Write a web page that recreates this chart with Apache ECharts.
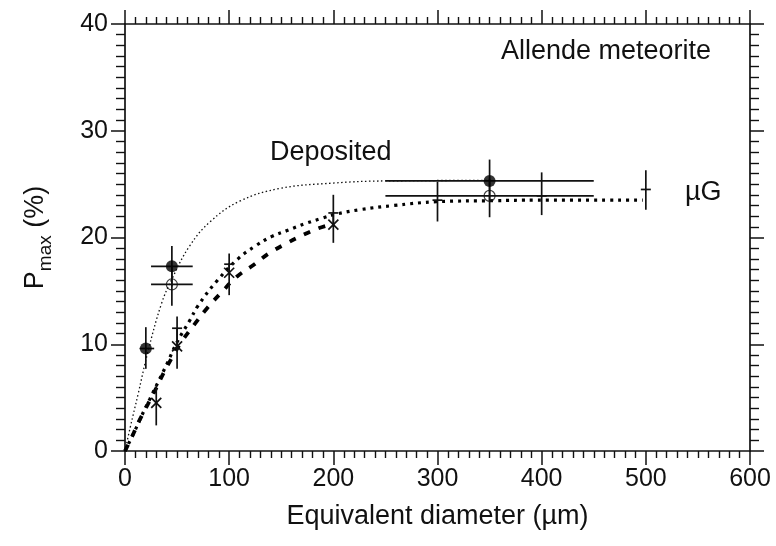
<!DOCTYPE html>
<html>
<head>
<meta charset="utf-8">
<script src="https://cdn.jsdelivr.net/npm/echarts@6/dist/echarts.min.js"></script>
<style>
html,body{margin:0;padding:0;background:#fff;}
#c{width:776px;height:546px;}
</style>
</head>
<body>
<div id="c"></div>
<script>
// ---- data ----
// each point: [x, y, xLow, xHigh, yLow, yHigh]
const depositedFilled = [
  [20, 9.6, 14, 28, 7.7, 11.6],
  [45, 17.3, 25, 65, 15.4, 19.2],
  [350, 25.3, 250, 450, 23.4, 27.3]
];
const depositedOpen = [
  [45, 15.6, 25, 65, 13.6, 17.3],
  [350, 23.9, 250, 450, 21.9, 25.5]
];
const microGPlus = [
  [50, 11.5, 50, 50, 9.8, 12.6],
  [100, 17.5, 100, 100, 16.5, 18.5],
  [200, 22.3, 200, 200, 21.0, 24.0],
  [300, 23.5, 300, 300, 21.5, 25.2],
  [400, 23.9, 400, 400, 22.1, 26.1],
  [500, 24.5, 500, 500, 22.6, 26.3]
];
const crossPts = [
  [30, 4.5, 30, 30, 2.4, 6.2],
  [50, 9.8, 50, 50, 7.7, 11.5],
  [100, 16.7, 100, 100, 14.6, 17.6],
  [200, 21.2, 200, 200, 19.5, 22.3]
];
// fitted curves
const depFitX = [0, 5, 12.5, 22, 35, 45, 62, 82, 110, 149, 200, 250, 350];
const depFitY = [0, 2.2, 5.3, 9.3, 13.8, 16.1, 19.2, 21.5, 23.4, 24.6, 25.1, 25.3, 25.35];
const mgFitX = [0, 9, 16, 24, 32, 40, 50, 62, 70, 88, 109, 125, 141, 157, 173, 189, 203, 225, 258, 299, 354, 395, 497];
const mgFitY = [0, 1.8, 3.3, 4.9, 6.5, 8.1, 10.2, 12.2, 13.6, 15.9, 18.05, 19.2, 20.1, 20.7, 21.3, 21.8, 22.2, 22.6, 23.0, 23.35, 23.45, 23.5, 23.5];
const crFitX = [0, 7, 14, 22, 30, 37, 46, 54, 67, 79, 93, 107, 123, 138, 154, 168, 184, 197];
const crFitY = [0, 1.4, 2.9, 4.4, 5.9, 7.3, 8.9, 10.2, 11.9, 13.4, 14.9, 16.3, 17.4, 18.5, 19.4, 20.1, 20.8, 21.2];

const xTicks = [0, 600, 100];
const yTicks = [0, 40, 10];

const zip = (a, b) => a.map((v, i) => [v, b[i]]);
const FONT = '"Liberation Sans", Arial, Helvetica, sans-serif';
const INK = '#111';

function makeRender(marker) {
  return function (params, api) {
    const x = api.value(0), y = api.value(1);
    const xl = api.value(2), xh = api.value(3), yl = api.value(4), yh = api.value(5);
    const st = { stroke: INK, lineWidth: 1.7 };
    const kids = [];
    const L = (p1, p2) => kids.push({ type: 'line', shape: { x1: p1[0], y1: p1[1], x2: p2[0], y2: p2[1] }, style: st });
    if (yl !== yh) L(api.coord([x, yl]), api.coord([x, yh]));
    if (xl !== xh) L(api.coord([xl, y]), api.coord([xh, y]));
    const c = api.coord([x, y]);
    if (marker === 'plus') {
      L([c[0] - 5, c[1]], [c[0] + 5, c[1]]);
    } else if (marker === 'cross') {
      L([c[0] - 5, c[1] - 5], [c[0] + 5, c[1] + 5]);
      L([c[0] - 5, c[1] + 5], [c[0] + 5, c[1] - 5]);
    }
    return { type: 'group', children: kids };
  };
}

const axisCommon = {
  axisLine: { show: true, onZero: false, lineStyle: { color: INK, width: 1.7 } },
  splitLine: { show: false },
  axisTick: { show: true, inside: false, length: 14, lineStyle: { color: INK, width: 1.5 } },
  minorSplitLine: { show: false }
};

const chart = echarts.init(document.getElementById('c'), null, { renderer: 'canvas' });
chart.setOption({
  backgroundColor: '#fff',
  animation: false,
  grid: { left: 125, right: 26, top: 24, bottom: 95, containLabel: false },
  xAxis: [
    Object.assign({}, axisCommon, {
      type: 'value', position: 'bottom', min: xTicks[0], max: xTicks[1], interval: xTicks[2],
      minorTick: { show: true, splitNumber: 10, length: 7, lineStyle: { color: INK, width: 1.4 } },
      axisLabel: { show: true, fontSize: 25, fontFamily: FONT, color: INK, margin: 16 },
      name: 'Equivalent diameter (\u00b5m)', nameLocation: 'middle', nameGap: 52,
      nameTextStyle: { fontSize: 27, fontFamily: FONT, color: INK }
    }),
    Object.assign({}, axisCommon, {
      type: 'value', position: 'top', min: xTicks[0], max: xTicks[1], interval: xTicks[2],
      minorTick: { show: true, splitNumber: 10, length: 7, lineStyle: { color: INK, width: 1.4 } },
      axisLabel: { show: false }
    })
  ],
  yAxis: [
    Object.assign({}, axisCommon, {
      type: 'value', position: 'left', min: yTicks[0], max: yTicks[1], interval: yTicks[2],
      minorTick: { show: true, splitNumber: 10, length: 9, lineStyle: { color: INK, width: 1.4 } },
      axisLabel: { show: true, fontSize: 25, fontFamily: FONT, color: INK, margin: 17 },
      name: '{p|P}{s|max}{p| (%)}', nameLocation: 'middle', nameGap: 70, nameRotate: 90,
      nameTextStyle: {
        fontFamily: FONT, color: INK,
        rich: {
          p: { fontSize: 27, fontFamily: FONT, color: INK, lineHeight: 28, verticalAlign: 'bottom', padding: [0, 0, 6, 0] },
          s: { fontSize: 19, fontFamily: FONT, color: INK, lineHeight: 19, verticalAlign: 'bottom' }
        }
      }
    }),
    Object.assign({}, axisCommon, {
      type: 'value', position: 'right', min: yTicks[0], max: yTicks[1], interval: yTicks[2],
      minorTick: { show: true, splitNumber: 10, length: 9, lineStyle: { color: INK, width: 1.4 } },
      axisLabel: { show: false }
    })
  ],
  graphic: [
    { type: 'text', left: 501, top: 38, style: { text: 'Allende meteorite', font: '27px ' + FONT, fill: INK } },
    { type: 'text', left: 270, top: 139, style: { text: 'Deposited', font: '27px ' + FONT, fill: INK } },
    { type: 'text', left: 685, top: 179, style: { text: '\u00b5G', font: '27px ' + FONT, fill: INK } }
  ],
  series: [
    { type: 'line', data: zip(depFitX, depFitY), smooth: 0.4, symbol: 'none', z: 2,
      lineStyle: { color: INK, width: 1.3, type: [1.5, 2.5] } },
    { type: 'line', data: zip(mgFitX, mgFitY), smooth: 0.4, symbol: 'none', z: 2,
      lineStyle: { color: '#000', width: 3.2, type: [3, 5] } },
    { type: 'line', data: zip(crFitX, crFitY), smooth: 0.4, symbol: 'none', z: 2,
      lineStyle: { color: '#000', width: 3.8, type: [7, 9] } },
    { type: 'custom', renderItem: makeRender('none'), data: depositedFilled, z: 3 },
    { type: 'custom', renderItem: makeRender('none'), data: depositedOpen, z: 3 },
    { type: 'custom', renderItem: makeRender('plus'), data: microGPlus, z: 3 },
    { type: 'custom', renderItem: makeRender('cross'), data: crossPts, z: 3 },
    { type: 'scatter', data: depositedFilled.map(d => [d[0], d[1]]), symbol: 'circle', symbolSize: 12, z: 4,
      itemStyle: { color: '#000' } },
    { type: 'scatter', data: depositedOpen.map(d => [d[0], d[1]]), symbol: 'circle', symbolSize: 11, z: 4,
      itemStyle: { color: 'rgba(255,255,255,0)', borderColor: INK, borderWidth: 1.2 } }
  ]
});
</script>
</body>
</html>
